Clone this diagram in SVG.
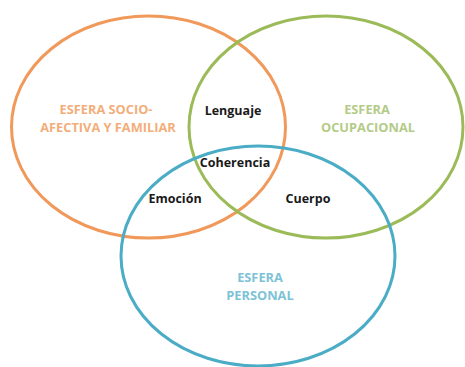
<svg xmlns="http://www.w3.org/2000/svg" width="465" height="367" viewBox="0 0 465 367">
<style>
.c{fill:none;stroke-width:3}
.t{font-family:"Open Sans","Liberation Sans",sans-serif;font-weight:bold;text-anchor:middle}
.s{font-size:12.8px}
.k{font-size:12.5px;fill:#1a1a1a}
</style>
<rect width="465" height="367" fill="#fff"/>
<g id="connectors"></g>
<g id="socio"><ellipse class="c" cx="148.5" cy="127" rx="137" ry="111" stroke="#F0995A"/>
<text class="t s" fill="#F2AE7A" x="106" y="113.5">ESFERA SOCIO-</text>
<text class="t s" fill="#F2AE7A" x="108" y="131.5">AFECTIVA Y FAMILIAR</text></g>
<g id="ocupacional"><ellipse class="c" cx="326" cy="127" rx="137" ry="111" stroke="#9BBB59"/>
<text class="t s" fill="#B4CB88" x="367" y="113.5">ESFERA</text>
<text class="t s" fill="#B4CB88" x="368" y="131.5">OCUPACIONAL</text></g>
<g id="personal"><ellipse class="c" cx="258" cy="256" rx="137" ry="110" stroke="#4BACC6"/>
<text class="t s" fill="#7DC2D6" x="260" y="281.5">ESFERA</text>
<text class="t s" fill="#7DC2D6" x="260" y="299.5">PERSONAL</text></g>
<g id="lenguaje"><text class="t k" x="233" y="115">Lenguaje</text></g>
<g id="coherencia"><text class="t k" x="235" y="167">Coherencia</text></g>
<g id="emocion"><text class="t k" x="175" y="203">Emoción</text></g>
<g id="cuerpo"><text class="t k" x="308" y="203">Cuerpo</text></g>
</svg>
